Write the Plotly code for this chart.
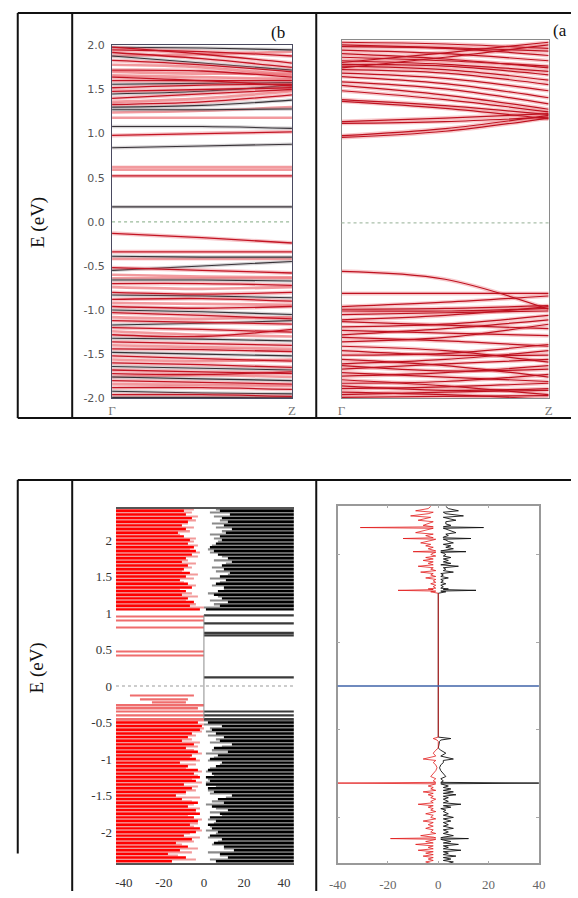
import plotly.graph_objects as go

# ---------------- data ----------------
# k-path positions: Γ, midpoint, Z
kpath = [0.0, 0.5, 1.0]
k_labels = ["Γ", "Z"]

# Panel (b): band energies (eV) at Γ, mid-path, Z
bands_b_red = [
    (1.95, 1.93, 1.88), (1.92, 1.85, 1.75), (1.98, 1.90, 1.80), (1.83, 1.78, 1.70),
    (1.72, 1.71, 1.64), (1.64, 1.60, 1.54), (1.60, 1.60, 1.60), (1.52, 1.55, 1.56),
    (1.48, 1.50, 1.52), (1.40, 1.45, 1.50), (1.33, 1.36, 1.44), (0.98, 1.00, 1.02),
    (0.52, 0.52, 0.52), (-0.13, -0.18, -0.24), (-0.34, -0.34, -0.34), (-0.52, -0.55, -0.58),
    (-0.70, -0.70, -0.72), (-0.80, -0.82, -0.80), (-0.88, -0.87, -0.90), (-0.96, -0.98, -0.96),
    (-1.03, -1.06, -1.10), (-1.12, -1.14, -1.16), (-1.20, -1.22, -1.25), (-1.28, -1.30, -1.22),
    (-1.36, -1.38, -1.40), (-1.44, -1.45, -1.47), (-1.52, -1.55, -1.58), (-1.60, -1.62, -1.65),
    (-1.68, -1.70, -1.72), (-1.72, -1.73, -1.70), (-1.80, -1.82, -1.84), (-1.88, -1.88, -1.90),
    (-1.96, -1.96, -1.98),
]
bands_b_pink = [
    (1.88, 1.90, 1.93), (1.78, 1.75, 1.66), (1.70, 1.68, 1.68), (1.66, 1.64, 1.62),
    (1.36, 1.40, 1.48), (1.24, 1.26, 1.30), (1.18, 1.18, 1.18), (0.62, 0.62, 0.62),
    (0.59, 0.59, 0.59), (-0.42, -0.42, -0.42), (-0.60, -0.62, -0.63), (-0.64, -0.64, -0.64),
    (-0.74, -0.76, -0.74), (-0.92, -0.93, -0.94), (-1.08, -1.10, -1.08), (-1.24, -1.28, -1.30),
    (-1.40, -1.42, -1.44), (-1.56, -1.58, -1.56), (-1.76, -1.74, -1.76), (-1.84, -1.85, -1.86),
]
bands_b_dark = [
    (1.98, 1.97, 1.95), (1.88, 1.80, 1.72), (1.56, 1.57, 1.58), (1.45, 1.48, 1.55),
    (1.30, 1.32, 1.38), (1.27, 1.27, 1.28), (1.08, 1.08, 1.06), (0.84, 0.86, 0.88),
    (0.17, 0.17, 0.17), (-0.39, -0.40, -0.40), (-0.55, -0.50, -0.45), (-0.66, -0.66, -0.67),
    (-0.83, -0.84, -0.86), (-1.00, -1.02, -1.05), (-1.17, -1.15, -1.12), (-1.32, -1.33, -1.35),
    (-1.48, -1.50, -1.52), (-1.64, -1.66, -1.68), (-1.76, -1.78, -1.80), (-1.92, -1.94, -1.95),
    (-1.99, -1.99, -1.99),
]

# Panel (a): band energies (eV) at Γ, mid-path, Z
bands_a_cond = [
    (0.97, 1.04, 1.19), (0.99, 1.07, 1.22), (1.13, 1.15, 1.20), (1.15, 1.19, 1.24),
    (1.38, 1.30, 1.18), (1.40, 1.33, 1.23), (1.50, 1.40, 1.26), (1.56, 1.45, 1.29),
    (1.60, 1.52, 1.35), (1.66, 1.58, 1.42), (1.70, 1.64, 1.50), (1.74, 1.70, 1.57),
    (1.78, 1.74, 1.62), (1.80, 1.78, 1.68), (1.84, 1.80, 1.72), (1.88, 1.84, 1.78),
    (1.92, 1.86, 1.76), (1.96, 1.92, 1.84), (2.00, 1.98, 1.90), (2.02, 1.99, 1.95),
    (2.05, 2.03, 1.98), (1.76, 1.88, 2.02), (1.82, 1.93, 2.05),
]
bands_a_val = [
    (-0.55, -0.64, -0.98), (-0.80, -0.80, -0.80), (-0.95, -0.90, -0.83), (-0.98, -0.97, -0.94),
    (-1.00, -1.00, -0.97), (-1.04, -1.02, -1.00), (-1.10, -1.05, -0.95), (-1.12, -1.16, -1.20),
    (-1.18, -1.15, -1.05), (-1.22, -1.25, -1.28), (-1.27, -1.20, -1.10), (-1.30, -1.34, -1.40),
    (-1.35, -1.30, -1.15), (-1.40, -1.45, -1.58), (-1.45, -1.50, -1.50), (-1.50, -1.48, -1.38),
    (-1.55, -1.62, -1.75), (-1.60, -1.55, -1.45), (-1.62, -1.68, -1.66), (-1.66, -1.60, -1.55),
    (-1.70, -1.75, -1.80), (-1.74, -1.70, -1.62), (-1.78, -1.85, -1.95), (-1.82, -1.80, -1.72),
    (-1.85, -1.90, -1.88), (-1.88, -1.86, -1.82), (-1.92, -1.95, -2.00), (-1.95, -1.92, -1.90),
    (-1.98, -1.97, -1.96),
]

band_ticks = [-2.0, -1.5, -1.0, -0.5, 0.0, 0.5, 1.0, 1.5, 2.0]
band_tick_text = ["-2.0", "-1.5", "-1.0", "-0.5", "0.0", "0.5", "1.0", "1.5", "2.0"]

# Panel (c): projected DOS, stacked levels. Each level: energy (eV) and the
# distance from zero (states/eV) where the spin-down (left) / spin-up (right) bar begins.
dos_c_E = [
    -2.40, -2.35, -2.30, -2.25, -2.20, -2.15, -2.10, -2.05, -2.00, -1.95,
    -1.90, -1.85, -1.80, -1.75, -1.70, -1.65, -1.60, -1.55, -1.50, -1.45,
    -1.40, -1.35, -1.30, -1.25, -1.20, -1.15, -1.10, -1.05, -1.00, -0.95,
    -0.90, -0.85, -0.80, -0.75, -0.70, -0.65, -0.60, -0.55, -0.50,
    1.05, 1.10, 1.15, 1.20, 1.25, 1.30, 1.35, 1.40, 1.45, 1.50,
    1.55, 1.60, 1.65, 1.70, 1.75, 1.80, 1.85, 1.90, 1.95, 2.00,
    2.05, 2.10, 2.15, 2.20, 2.25, 2.30, 2.35, 2.40,
]
dos_c_down_gap = [
    16, 9, 18, 12, 8, 14, 6, 10, 4, 2, 7, 3, 5, 2, 4, 8, 3, 11, 14, 9,
    6, 10, 4, 2, 5, 3, 8, 12, 4, 6, 3, 9, 5, 11, 8, 6, 2, 1, 3,
    2, 7, 5, 8, 11, 9, 6, 8, 12, 9, 7, 10, 8, 11, 9, 6, 4, 5, 8, 7,
    10, 13, 9, 11, 8, 6, 9, 10,
]
dos_c_up_gap = [
    6, 12, 8, 15, 10, 5, 9, 3, 7, 4, 2, 6, 3, 8, 12, 4, 10, 7, 14, 5,
    2, 1, 3, 1, 4, 2, 6, 9, 3, 7, 12, 5, 14, 8, 10, 6, 4, 9, 2,
    1, 8, 12, 9, 5, 7, 10, 6, 11, 8, 13, 10, 9, 14, 12, 7, 5, 3, 6, 9,
    8, 11, 14, 10, 12, 9, 13, 8,
]
dos_c_E2 = [
    -2.375, -2.325, -2.275, -2.225, -2.175, -2.125, -2.075, -2.025, -1.975, -1.925,
    -1.875, -1.825, -1.775, -1.725, -1.675, -1.625, -1.575, -1.525, -1.475, -1.425,
    -1.375, -1.325, -1.275, -1.225, -1.175, -1.125, -1.075, -1.025, -0.975, -0.925,
    -0.875, -0.825, -0.775, -0.725, -0.675, -0.625, -0.575, -0.525, -0.475,
    1.075, 1.125, 1.175, 1.225, 1.275, 1.325, 1.375, 1.425, 1.475, 1.525,
    1.575, 1.625, 1.675, 1.725, 1.775, 1.825, 1.875, 1.925, 1.975, 2.025,
    2.075, 2.125, 2.175, 2.225, 2.275, 2.325, 2.375, 2.425,
]
dos_c_down_gap2 = [
    4, 13, 6, 3, 11, 5, 2, 7, 1, 5, 3, 1, 8, 4, 2, 5, 6, 2, 9, 4,
    3, 1, 6, 3, 1, 9, 4, 2, 7, 1, 5, 3, 2, 6, 4, 1, 0, 0, 0,
    0, 4, 9, 3, 6, 12, 4, 10, 5, 3, 11, 6, 4, 8, 3, 2, 7, 3, 5, 4,
    12, 7, 5, 8, 4, 3, 6, 5,
]
dos_c_up_gap2 = [
    3, 8, 2, 10, 4, 7, 2, 6, 1, 3, 5, 2, 9, 3, 6, 1, 4, 11, 3, 2,
    6, 1, 2, 5, 1, 3, 8, 2, 5, 1, 4, 9, 3, 6, 2, 1, 3, 0, 0,
    0, 5, 3, 7, 2, 10, 4, 8, 3, 12, 6, 4, 11, 5, 9, 3, 2, 4, 7, 5,
    3, 9, 6, 4, 8, 5, 3, 6,
]
# isolated in-gap levels: energy, bar start, bar end
iso_c_left_E = [0.95, 0.90, 0.80, 0.47, 0.42, -0.13, -0.18, -0.22, -0.26, -0.30, -0.35, -0.40, -0.45]
iso_c_left_from = [-44, -44, -44, -44, -44, -37, -32, -26, -44, -44, -44, -44, -44]
iso_c_left_to = [0, 0, 0, 0, 0, -5, -8, -9, 0, -3, 0, 0, 0]
iso_c_right_E = [0.97, 0.86, 0.73, 0.69, 0.12, -0.35, -0.40, -0.45]
iso_c_right_from = [0, 0, 0, 0, 0, 0, 0, 0]
iso_c_right_to = [45, 45, 45, 45, 45, 45, 45, 45]
dos_c_range = [-44, 45]

# Panel (d): total DOS curve, spin down (left) and spin up (right)
dos_d_E = [
    2.46, 2.43, 2.40, 2.38, 2.36, 2.33, 2.31, 2.29, 2.27, 2.25,
    2.22, 2.20, 2.18, 2.17, 2.16, 2.15, 2.13, 2.10, 2.08, 2.06,
    2.04, 2.03, 2.02, 2.01, 2.00, 1.98, 1.96, 1.94, 1.92, 1.90,
    1.88, 1.86, 1.85, 1.84, 1.83, 1.82, 1.80, 1.78, 1.76, 1.74,
    1.72, 1.70, 1.68, 1.66, 1.64, 1.62, 1.60, 1.58, 1.56, 1.54,
    1.52, 1.50, 1.48, 1.46, 1.44, 1.42, 1.40, 1.38, 1.36, 1.34,
    1.33, 1.32, 1.31, 1.30, 1.29, 1.27,
    -0.70, -0.72, -0.74, -0.76, -0.85, -0.88, -0.92, -0.96, -1.00, -1.02,
    -1.05, -1.08, -1.12, -1.16, -1.20, -1.24, -1.27, -1.30, -1.32, -1.33,
    -1.34, -1.35, -1.37, -1.39, -1.41, -1.43, -1.45, -1.47, -1.49, -1.51,
    -1.53, -1.55, -1.58, -1.60, -1.62, -1.64, -1.66, -1.68, -1.70, -1.72,
    -1.75, -1.77, -1.80, -1.82, -1.85, -1.87, -1.90, -1.92, -1.95, -1.97,
    -2.00, -2.02, -2.05, -2.07, -2.08, -2.09, -2.10, -2.11, -2.13, -2.15,
    -2.17, -2.19, -2.21, -2.23, -2.25, -2.27, -2.29, -2.31, -2.33, -2.35,
    -2.37, -2.39, -2.41, -2.43,
]
dos_d_down = [
    3, 4, 9, 2, 4, 11, 3, 5, 8, 2,
    4, 6, 2, 31, 2, 3, 6, 9, 2, 5,
    3, 2, 14, 1, 2, 4, 7, 3, 5, 2,
    4, 2, 1, 10, 1, 2, 3, 1, 5, 2,
    6, 2, 4, 2, 8, 2, 3, 1, 7, 2,
    3, 1, 5, 1, 2, 1, 3, 1, 2, 1,
    4, 2, 16, 1, 3, 0,
    0, 2, 0.5, 0, 0, 1, 2, 1, 6, 1,
    2, 1, 0.5, 1, 2, 3, 1, 2, 1, 40,
    1, 2, 4, 2, 3, 1, 6, 2, 4, 2,
    3, 1, 3, 2, 8, 2, 4, 2, 3, 1,
    5, 2, 3, 1, 6, 2, 4, 2, 5, 2,
    3, 1, 7, 2, 1, 19, 1, 2, 5, 2,
    9, 2, 4, 2, 8, 2, 5, 2, 6, 2,
    4, 2, 5, 3,
]
dos_d_up = [
    3, 4, 8, 2, 3, 10, 2, 4, 7, 3,
    3, 5, 2, 18, 2, 3, 5, 7, 3, 4,
    2, 2, 13, 2, 3, 4, 6, 2, 5, 3,
    6, 2, 1, 11, 1, 2, 3, 2, 5, 2,
    4, 2, 5, 1, 8, 2, 3, 2, 6, 1,
    2, 1, 4, 1, 2, 1, 3, 1, 2, 1,
    4, 2, 15, 1, 3, 0,
    0, 5, 1, 0.5, 0, 1, 3, 1, 6, 2,
    2, 1, 0.5, 1, 2, 3, 1, 2, 1, 40,
    1, 2, 4, 2, 5, 2, 6, 2, 7, 2,
    4, 2, 4, 2, 9, 2, 5, 1, 3, 2,
    4, 2, 6, 2, 5, 2, 4, 2, 6, 2,
    4, 2, 6, 2, 1, 12, 1, 2, 5, 2,
    8, 2, 4, 2, 9, 2, 4, 2, 7, 2,
    5, 2, 6, 4,
]

dos_ticks = [-40, -20, 0, 20, 40]
dos_tick_text = ["-40", "-20", "0", "20", "40"]
dos_e_ticks = [-2, -1.5, -1, -0.5, 0, 0.5, 1, 1.5, 2]
dos_e_tick_text = ["-2", "-1.5", "-1", "-0.5", "0", "0.5", "1", "1.5", "2"]

# ---------------- layout helpers ----------------
W, H = 578, 898
SERIF = "Liberation Serif"


def dx(a, b):
    return [a / W, b / W]


def dy(top, bottom):
    return [1 - bottom / H, 1 - top / H]


def band_path(bands):
    xs, ys = [], []
    for b in bands:
        xs += list(kpath) + [None]
        ys += list(b) + [None]
    return xs, ys


fig = go.Figure()


def add_bands(bands, ax, core, core_w, halo=None, halo_w=0):
    xs, ys = band_path(bands)
    if halo:
        fig.add_trace(go.Scatter(x=xs, y=ys, mode="lines", xaxis="x" + ax, yaxis="y" + ax,
                                 line=dict(color=halo, width=halo_w, shape="spline"),
                                 hoverinfo="skip"))
    fig.add_trace(go.Scatter(x=xs, y=ys, mode="lines", xaxis="x" + ax, yaxis="y" + ax,
                             line=dict(color=core, width=core_w, shape="spline"),
                             hoverinfo="skip"))


# (b) band structure
add_bands(bands_b_pink, "", "rgba(238,120,125,0.75)", 2.6)
add_bands(bands_b_dark, "", "rgb(55,50,55)", 1.1, "rgba(120,110,115,0.3)", 3.5)
add_bands(bands_b_red, "", "rgb(195,20,35)", 1.3, "rgba(230,90,100,0.35)", 4)

# (a) band structure
add_bands(bands_a_cond + bands_a_val, "2", "rgb(190,18,32)", 1.2, "rgba(235,100,110,0.35)", 4)

# (c) projected DOS bars
ext_l, ext_r = dos_c_range


def add_bars(E, base, length, color, width):
    fig.add_trace(go.Bar(y=E, x=length, base=base, orientation="h", width=width,
                         marker=dict(color=color, line=dict(width=0)),
                         xaxis="x3", yaxis="y3", hoverinfo="skip"))


add_bars(dos_c_E2, [ext_l] * len(dos_c_E2), [-ext_l - g for g in dos_c_down_gap2], "#f29a9a", 0.021)
add_bars(dos_c_E2, dos_c_up_gap2, [ext_r - g for g in dos_c_up_gap2], "#8a8a8a", 0.021)
add_bars(dos_c_E, [ext_l] * len(dos_c_E), [-ext_l - g for g in dos_c_down_gap], "#ff0000", 0.033)
add_bars(dos_c_E, dos_c_up_gap, [ext_r - g for g in dos_c_up_gap], "#000000", 0.033)
add_bars(iso_c_left_E, iso_c_left_from, [b - a for a, b in zip(iso_c_left_from, iso_c_left_to)],
         "#ef6d6d", 0.025)
add_bars(iso_c_right_E, iso_c_right_from, [b - a for a, b in zip(iso_c_right_from, iso_c_right_to)],
         "#3a3a3a", 0.025)
fig.add_trace(go.Scatter(x=[0, 0], y=[min(iso_c_right_E), max(iso_c_right_E)], mode="lines",
                         xaxis="x3", yaxis="y3", line=dict(color="#8c8c8c", width=1),
                         hoverinfo="skip"))

# (d) total DOS curves
fig.add_trace(go.Scatter(x=dos_d_up, y=dos_d_E, mode="lines", xaxis="x4", yaxis="y4",
                         line=dict(color="#111111", width=0.9), hoverinfo="skip"))
fig.add_trace(go.Scatter(x=[-v for v in dos_d_down], y=dos_d_E, mode="lines", xaxis="x4", yaxis="y4",
                         line=dict(color="rgba(225,20,20,0.85)", width=0.9), hoverinfo="skip"))

# ---------------- axes ----------------
tick_font_b = dict(family="DejaVu Sans", size=11, color="#555555")
tick_font_s = dict(family=SERIF, size=13, color="#333333")
k_font = dict(family=SERIF, size=13, color="#777777")

fig.update_layout(
    width=W, height=H, autosize=False,
    margin=dict(l=0, r=0, t=0, b=0),
    paper_bgcolor="white", plot_bgcolor="white",
    showlegend=False, barmode="overlay",
    xaxis=dict(domain=dx(106, 291), range=[0, 1], anchor="y", tickvals=[0, 1], ticktext=k_labels,
               showgrid=False, zeroline=False, showline=True, mirror=True, linecolor="#4a4a60",
               linewidth=1, ticks="", tickfont=k_font, ticklabelstandoff=0),
    yaxis=dict(domain=dy(40, 398), range=[-2, 2], anchor="x", tickvals=band_ticks,
               ticktext=band_tick_text, showgrid=False, zeroline=False, showline=True, mirror=True,
               linecolor="#4a4a60", linewidth=1, ticks="", tickfont=tick_font_b, ticklabelstandoff=4),
    xaxis2=dict(domain=dx(342, 555), range=[0, 1], anchor="y2", tickvals=[0, 1], ticktext=k_labels,
                showgrid=False, zeroline=False, showline=True, mirror=True, linecolor="#8a8a8a",
                linewidth=1, ticks="", tickfont=k_font, ticklabelstandoff=0),
    yaxis2=dict(domain=dy(35, 398), range=[-1.99, 2.07], anchor="x2", showticklabels=False,
                showgrid=False, zeroline=False, showline=True, mirror=True, linecolor="#8a8a8a",
                linewidth=1, ticks=""),
    xaxis3=dict(domain=dx(110, 293), range=dos_c_range, anchor="y3", tickvals=dos_ticks,
                ticktext=dos_tick_text, showgrid=False, zeroline=False, showline=True, mirror=True,
                linecolor="#555555", linewidth=1.5, ticks="", tickfont=tick_font_s, ticklabelstandoff=6),
    yaxis3=dict(domain=dy(510, 870), range=[-2.43, 2.43], anchor="x3", tickvals=dos_e_ticks,
                ticktext=dos_e_tick_text, showgrid=False, zeroline=False, showline=False,
                ticks="", tickfont=tick_font_s, ticklabelstandoff=3),
    xaxis4=dict(domain=dx(338, 545), range=[-40, 40], anchor="y4", tickvals=dos_ticks,
                ticktext=dos_tick_text, showgrid=False, zeroline=False, showline=True, mirror="allticks",
                linecolor="#999999", linewidth=1.5, ticks="inside", ticklen=3, tickcolor="#aaaaaa",
                tickfont=dict(family=SERIF, size=13, color="#666666"), ticklabelstandoff=8),
    yaxis4=dict(domain=dy(507, 870), range=[-2.43, 2.47], anchor="x4", showticklabels=False,
                tickvals=[-1.8, -0.6, 0.6, 1.8], showgrid=False, zeroline=False, showline=True,
                mirror="allticks", linecolor="#999999", linewidth=1.5, ticks="inside", ticklen=3,
                tickcolor="#aaaaaa"),
)

# ---------------- reference lines ----------------
shapes = [
    dict(type="line", xref="x domain", yref="y", x0=0, x1=1, y0=0, y1=0,
         line=dict(color="#9bbb9b", width=1.2, dash="dot")),
    dict(type="line", xref="x2 domain", yref="y2", x0=0, x1=1, y0=0, y1=0,
         line=dict(color="#a9bfa9", width=1.2, dash="dot")),
    dict(type="line", xref="x3 domain", yref="y3", x0=0, x1=1, y0=0, y1=0,
         line=dict(color="#999999", width=1.2, dash="dot")),
    dict(type="line", xref="x4 domain", yref="y4", x0=0, x1=1, y0=0, y1=0,
         line=dict(color="#3f63a8", width=1.5)),
]


# table frame around the panels
def hline(y, x0, x1):
    return dict(type="line", xref="paper", yref="paper", x0=x0 / W, x1=x1 / W, y0=1 - y / H,
                y1=1 - y / H, line=dict(color="#111111", width=2))


def vline(x, y0, y1):
    return dict(type="line", xref="paper", yref="paper", x0=x / W, x1=x / W, y0=1 - y0 / H,
                y1=1 - y1 / H, line=dict(color="#111111", width=2))


shapes += [
    hline(7, 9, 578), hline(418, 9, 578), vline(9, 7, 418), vline(65, 7, 418), vline(316, 7, 418),
    hline(481, 9, 578), vline(9, 481, 860), vline(65, 481, 898), vline(316, 481, 898),
]
fig.update_layout(shapes=shapes)

# ---------------- labels ----------------
labels = [
    dict(text="E (eV)", x=30, y=220, textangle=-90, size=19),
    dict(text="E (eV)", x=29, y=672, textangle=-90, size=19),
    dict(text="(b", x=277, y=27, textangle=0, size=17),
    dict(text="(a", x=567, y=25, textangle=0, size=17),
]
fig.update_layout(annotations=[
    dict(text=a["text"], x=a["x"] / W, y=1 - a["y"] / H, textangle=a["textangle"],
         xref="paper", yref="paper", showarrow=False, xanchor="center", yanchor="middle",
         font=dict(family=SERIF, size=a["size"], color="#111111"))
    for a in labels
])

fig.write_html("out.html")
